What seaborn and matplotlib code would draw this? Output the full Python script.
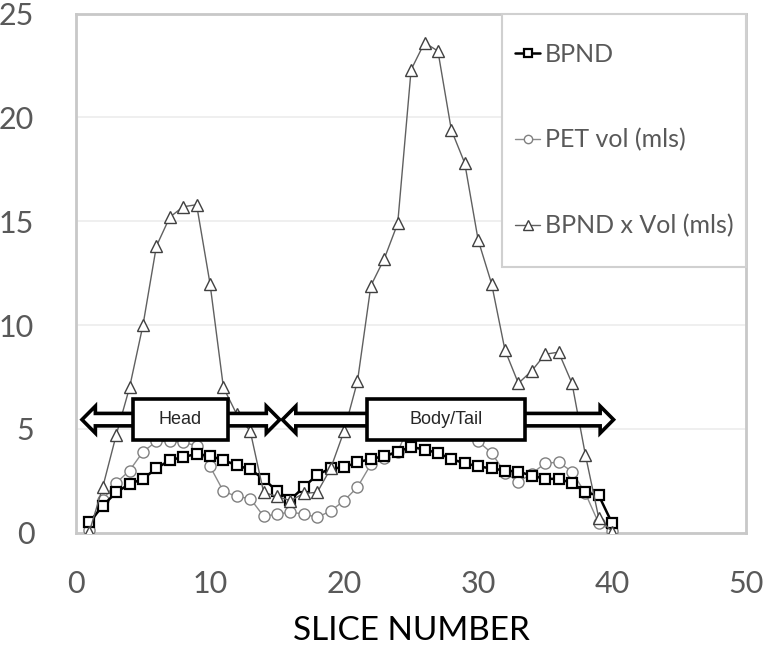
import numpy as np
import seaborn as sns
import pandas as pd
import matplotlib.pyplot as plt
from matplotlib.patches import FancyArrow, Rectangle

sns.set_style("white")
plt.rcParams['font.family'] = ['Lato', 'DejaVu Sans']

slices = list(range(1, 41))

bpnd = [0.5, 1.3, 1.95, 2.35, 2.6, 3.1, 3.5, 3.65, 3.8, 3.7,
        3.5, 3.25, 3.05, 2.6, 2.0, 1.6, 2.2, 2.8, 3.1, 3.15,
        3.4, 3.55, 3.7, 3.9, 4.15, 4.0, 3.85, 3.55, 3.35, 3.2,
        3.1, 3.0, 2.95, 2.75, 2.6, 2.6, 2.4, 1.95, 1.8, 0.45]

pet_vol = [0.15, 1.6, 2.4, 3.0, 3.9, 4.4, 4.4, 4.35, 4.2, 3.2,
           2.0, 1.75, 1.65, 0.8, 0.9, 1.0, 0.9, 0.75, 1.05, 1.55,
           2.2, 3.3, 3.6, 3.9, 5.4, 5.9, 6.0, 5.5, 5.3, 4.4,
           3.85, 2.9, 2.45, 2.85, 3.35, 3.4, 2.95, 1.9, 0.45, 0.1]

bpnd_x_vol = [0.05, 2.2, 4.7, 7.0, 10.0, 13.8, 15.2, 15.7, 15.8, 12.0,
              7.0, 5.7, 4.9, 1.95, 1.75, 1.55, 1.9, 1.95, 3.1, 4.9,
              7.3, 11.9, 13.2, 14.9, 22.3, 23.6, 23.2, 19.4, 17.8, 14.1,
              12.0, 8.8, 7.2, 7.8, 8.6, 8.7, 7.2, 3.75, 0.7, 0.05]

series_labels = ["BPND", "PET vol (mls)", "BPND x Vol (mls)"]
x_ticks = [0, 10, 20, 30, 40, 50]
y_ticks = [0, 5, 10, 15, 20, 25]

# region annotations: (label, left tip, right tip, box left, box right)
regions = [("Head", 0.45, 15.2, 4.25, 11.35),
           ("Body/Tail", 15.4, 40.1, 21.7, 33.5)]

df = pd.DataFrame({"slice": slices, "bpnd": bpnd, "pet": pet_vol, "prod": bpnd_x_vol})

fig, ax = plt.subplots(figsize=(7.67, 6.49), dpi=100)
fig.subplots_adjust(left=0.099, right=0.973, bottom=0.179, top=0.979)

grey = "#595959"

sns.lineplot(data=df, x="slice", y="pet", ax=ax, color="#8c8c8c", linewidth=1.0,
             marker="o", markersize=8, markerfacecolor="white",
             markeredgecolor="#808080", markeredgewidth=1.0, label=series_labels[1], zorder=3)
sns.lineplot(data=df, x="slice", y="bpnd", ax=ax, color="black", linewidth=1.8,
             marker="s", markersize=7.5, markerfacecolor="white",
             markeredgecolor="black", markeredgewidth=1.6, label=series_labels[0], zorder=4)
sns.lineplot(data=df, x="slice", y="prod", ax=ax, color="#606060", linewidth=1.0,
             marker="^", markersize=9, markerfacecolor="white",
             markeredgecolor="#404040", markeredgewidth=1.0, label=series_labels[2], zorder=5)

ax.set_xlim(0, 50)
ax.set_ylim(0, 25)
ax.set_xticks(x_ticks)
ax.set_yticks(y_ticks)
ax.yaxis.grid(True, color="#ececec", linewidth=1.2)
ax.xaxis.grid(False)
ax.set_axisbelow(True)
for s in ax.spines.values():
    s.set_color("#c8c8c8")
    s.set_linewidth(2)
ax.tick_params(axis="both", length=0, labelsize=22, labelcolor=grey)
ax.tick_params(axis="y", pad=30)
ax.tick_params(axis="x", pad=27)
ax.set_ylabel("")
ax.set_xlabel("SLICE NUMBER", fontsize=24, color="black", labelpad=13)

# region arrows
yc = 5.45
for name, lt, rt, bl, br in regions:
    mid = (bl + br) / 2
    for tip in (lt, rt):
        arr = FancyArrow(mid, yc, tip - mid, 0, width=0.6, head_width=1.3, head_length=1.0,
                         length_includes_head=True, facecolor="white", edgecolor="black",
                         linewidth=2.6, zorder=10)
        ax.add_patch(arr)
    ax.add_patch(Rectangle((bl, 4.47), br - bl, 1.95, facecolor="white", edgecolor="black",
                           linewidth=2.6, zorder=11))
    ax.text(mid, yc, name, ha="center", va="center", fontsize=13,
            family=["Liberation Sans", "DejaVu Sans"], zorder=12)

# legend box, drawn by hand so the padding matches
ax.add_patch(Rectangle((0.636, 0.512), 0.364, 0.488, transform=ax.transAxes,
                       facecolor="white", edgecolor="#d0d0d0", linewidth=1.5,
                       zorder=19, clip_on=False))
handles, labels = ax.get_legend_handles_labels()
order = [labels.index(l) for l in series_labels]
leg = ax.legend([handles[i] for i in order], [labels[i] for i in order],
                loc="upper left", bbox_to_anchor=(0.655, 0.944), borderaxespad=0,
                fontsize=18, labelcolor=grey, frameon=False,
                handlelength=1.0, handletextpad=0.2, labelspacing=2.5,
                borderpad=0, markerscale=0.75)
leg.set_zorder(20)

fig.savefig("out.png", dpi=100)
plt.close(fig)
